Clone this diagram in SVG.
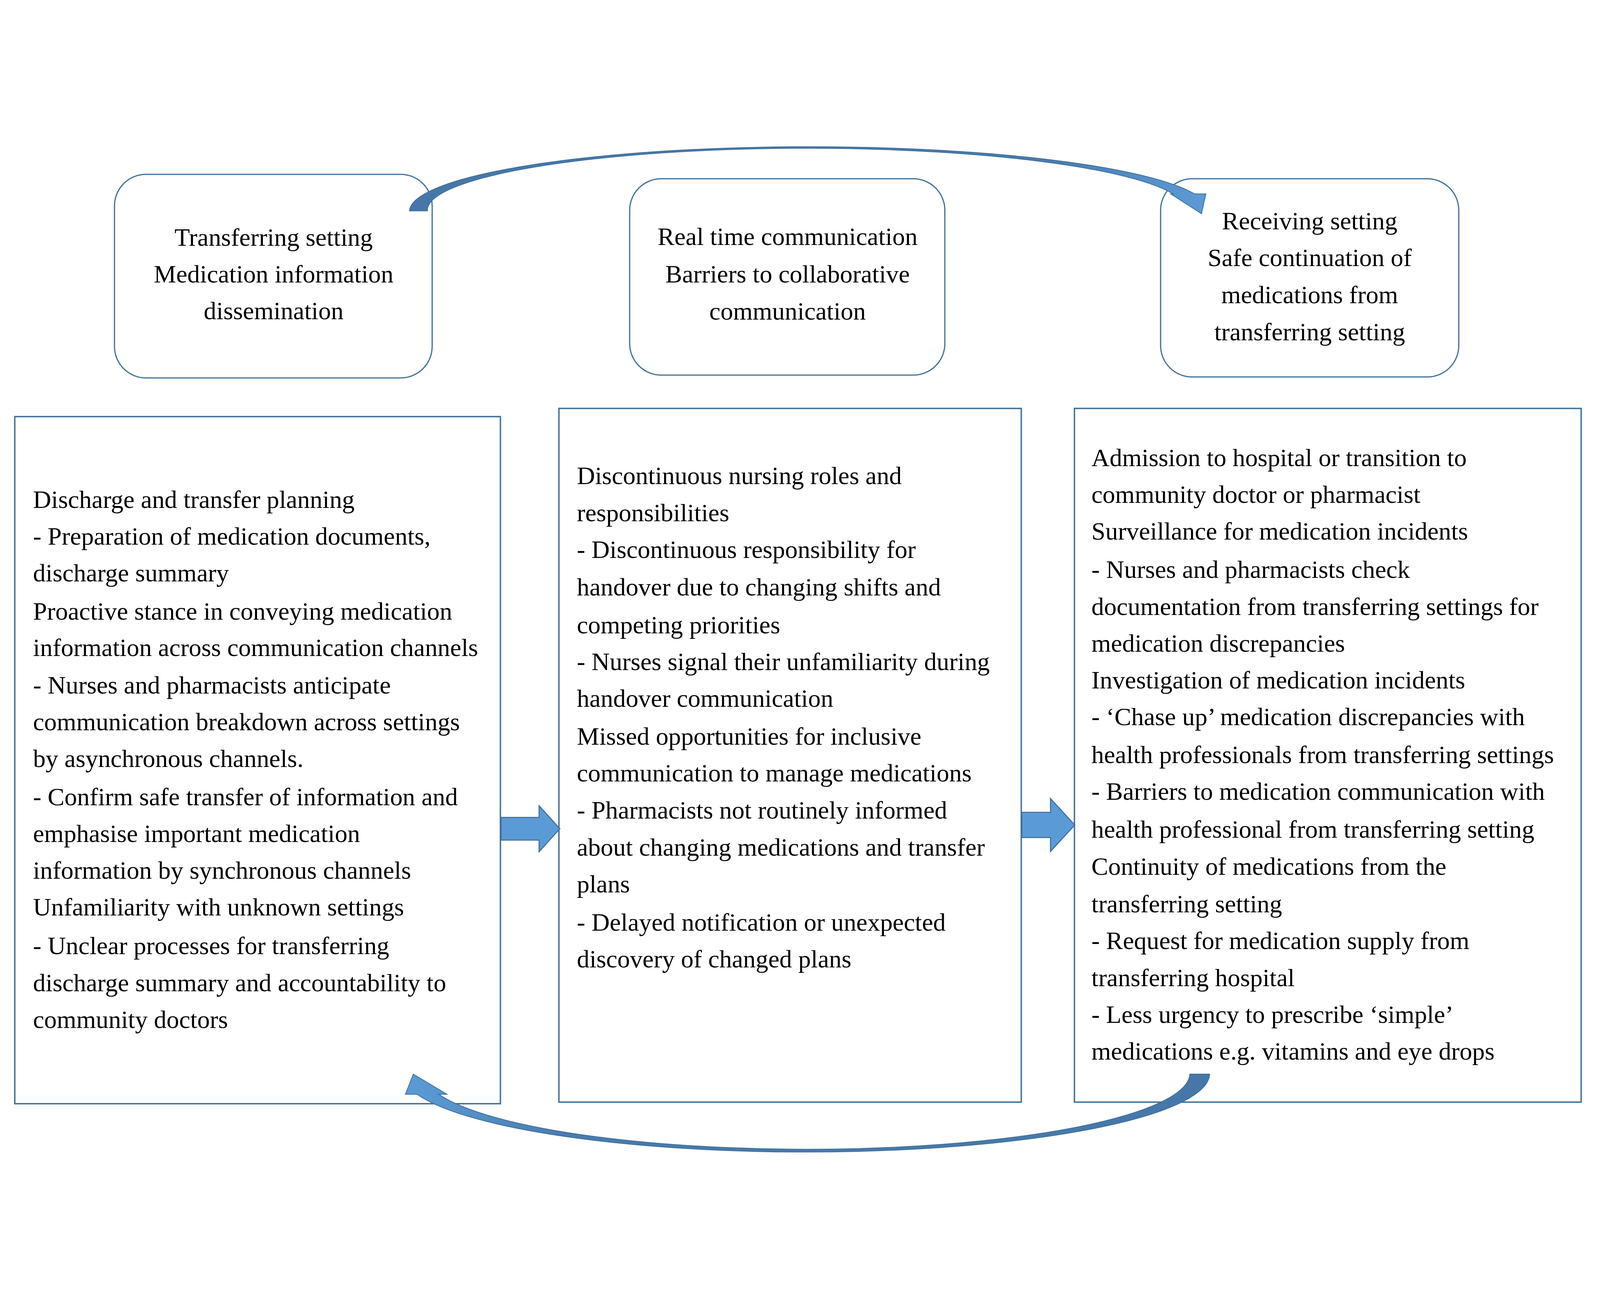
<svg xmlns="http://www.w3.org/2000/svg" width="5087" height="3317" viewBox="0 0 5087 3317" preserveAspectRatio="xMidYMid meet" style="width:100vw;height:100vh;display:block;background:#FFFFFF">
<defs>
<style>
.rbox{fill:#FFFFFF;stroke:#41719C;stroke-width:3.8}
.box{fill:#FFFFFF;stroke:#41719C;stroke-width:4.5}
.t{font-family:"Liberation Serif","Times New Roman",serif;font-size:80px;fill:#000000}
.c{text-anchor:middle}
.blk{fill:#5B9BD5;stroke:#41719C;stroke-width:3.5;stroke-linejoin:miter}
.crv{stroke:#41719C;stroke-width:2.5;stroke-linejoin:miter}
</style>
<linearGradient id="gTop" gradientUnits="userSpaceOnUse" x1="1300" y1="0" x2="3840" y2="0">
<stop offset="0" stop-color="#4677A8"/>
<stop offset="0.8" stop-color="#487CAE"/>
<stop offset="0.93" stop-color="#5592CA"/>
<stop offset="1" stop-color="#5B9BD5"/>
</linearGradient>
<linearGradient id="gBot" gradientUnits="userSpaceOnUse" x1="3850" y1="0" x2="1285" y2="0">
<stop offset="0" stop-color="#4677A8"/>
<stop offset="0.8" stop-color="#487CAE"/>
<stop offset="0.93" stop-color="#5592CA"/>
<stop offset="1" stop-color="#5B9BD5"/>
</linearGradient>
</defs>
<rect x="0" y="0" width="5087" height="3317" fill="#FFFFFF"/>

<g id="node-transferring">
<rect class="rbox" x="364" y="153" width="1010" height="647" rx="100" ry="100"/>
<text class="t c" x="870" y="380">Transferring setting</text>
<text class="t c" x="870" y="497">Medication information</text>
<text class="t c" x="870" y="614">dissemination</text>
</g>

<g id="node-realtime">
<rect class="rbox" x="2002" y="167" width="1002" height="624" rx="100" ry="100"/>
<text class="t c" x="2504" y="378">Real time communication</text>
<text class="t c" x="2504" y="497">Barriers to collaborative</text>
<text class="t c" x="2504" y="615">communication</text>
</g>

<g id="node-receiving">
<rect class="rbox" x="3690" y="167" width="948" height="630" rx="100" ry="100"/>
<text class="t c" x="4164" y="328">Receiving setting</text>
<text class="t c" x="4164" y="445">Safe continuation of</text>
<text class="t c" x="4164" y="562">medications from</text>
<text class="t c" x="4164" y="680">transferring setting</text>
</g>

<g id="node-left-detail">
<rect class="box" x="47" y="923" width="1544" height="2184"/>
<text class="t" x="105" y="1213">Discharge and transfer planning</text>
<text class="t" x="105" y="1330">- Preparation of medication documents,</text>
<text class="t" x="105" y="1447">discharge summary</text>
<text class="t" x="105" y="1569">Proactive stance in conveying medication</text>
<text class="t" x="105" y="1684">information across communication channels</text>
<text class="t" x="105" y="1803">- Nurses and pharmacists anticipate</text>
<text class="t" x="105" y="1920">communication breakdown across settings</text>
<text class="t" x="105" y="2037">by asynchronous channels.</text>
<text class="t" x="105" y="2158">- Confirm safe transfer of information and</text>
<text class="t" x="105" y="2275">emphasise important medication</text>
<text class="t" x="105" y="2392">information by synchronous channels</text>
<text class="t" x="105" y="2509">Unfamiliarity with unknown settings</text>
<text class="t" x="105" y="2632">- Unclear processes for transferring</text>
<text class="t" x="105" y="2749">discharge summary and accountability to</text>
<text class="t" x="105" y="2866">community doctors</text>
</g>

<g id="node-middle-detail">
<rect class="box" x="1777" y="897" width="1470" height="2205"/>
<text class="t" x="1834" y="1138">Discontinuous nursing roles and</text>
<text class="t" x="1834" y="1255">responsibilities</text>
<text class="t" x="1834" y="1372">- Discontinuous responsibility for</text>
<text class="t" x="1834" y="1492">handover due to changing shifts and</text>
<text class="t" x="1834" y="1612">competing priorities</text>
<text class="t" x="1834" y="1729">- Nurses signal their unfamiliarity during</text>
<text class="t" x="1834" y="1846">handover communication</text>
<text class="t" x="1834" y="1966">Missed opportunities for inclusive</text>
<text class="t" x="1834" y="2083">communication to manage medications</text>
<text class="t" x="1834" y="2201">- Pharmacists not routinely informed</text>
<text class="t" x="1834" y="2318">about changing medications and transfer</text>
<text class="t" x="1834" y="2435">plans</text>
<text class="t" x="1834" y="2557">- Delayed notification or unexpected</text>
<text class="t" x="1834" y="2674">discovery of changed plans</text>
</g>

<g id="node-right-detail">
<rect class="box" x="3416" y="897" width="1611" height="2205"/>
<text class="t" x="3470" y="1080">Admission to hospital or transition to</text>
<text class="t" x="3470" y="1197">community doctor or pharmacist</text>
<text class="t" x="3470" y="1314">Surveillance for medication incidents</text>
<text class="t" x="3470" y="1436">- Nurses and pharmacists check</text>
<text class="t" x="3470" y="1553">documentation from transferring settings for</text>
<text class="t" x="3470" y="1670">medication discrepancies</text>
<text class="t" x="3470" y="1787">Investigation of medication incidents</text>
<text class="t" x="3470" y="1904">- ‘Chase up’ medication discrepancies with</text>
<text class="t" x="3470" y="2024">health professionals from transferring settings</text>
<text class="t" x="3470" y="2141">- Barriers to medication communication with</text>
<text class="t" x="3470" y="2262">health professional from transferring setting</text>
<text class="t" x="3470" y="2379">Continuity of medications from the</text>
<text class="t" x="3470" y="2499">transferring setting</text>
<text class="t" x="3470" y="2616">- Request for medication supply from</text>
<text class="t" x="3470" y="2733">transferring hospital</text>
<text class="t" x="3470" y="2850">- Less urgency to prescribe ‘simple’</text>
<text class="t" x="3470" y="2967">medications e.g. vitamins and eye drops</text>
</g>

<g id="connectors">
<path class="blk" d="M1593 2197 L1714 2197 L1714 2160 L1780 2233 L1714 2306 L1714 2269 L1593 2269 Z"/>
<path class="blk" d="M3249 2181 L3340 2181 L3340 2137 L3417 2221 L3340 2305 L3340 2261 L3249 2261 Z"/>
<path class="crv" fill="url(#gTop)" d="M1302 269 A1272 206 0 0 1 3798 215 L3834 215 L3820 278 L3722 215 L3730 215 A1207 197 0 0 0 1359 269 Z"/>
<path class="crv" fill="url(#gBot)" d="M3846 3013 A1283 250 0 0 1 1326 3077 L1289 3077 L1314 3013 L1421 3077 L1395 3077 A1218 242 0 0 0 3783 3013 Z"/>
</g>
</svg>
